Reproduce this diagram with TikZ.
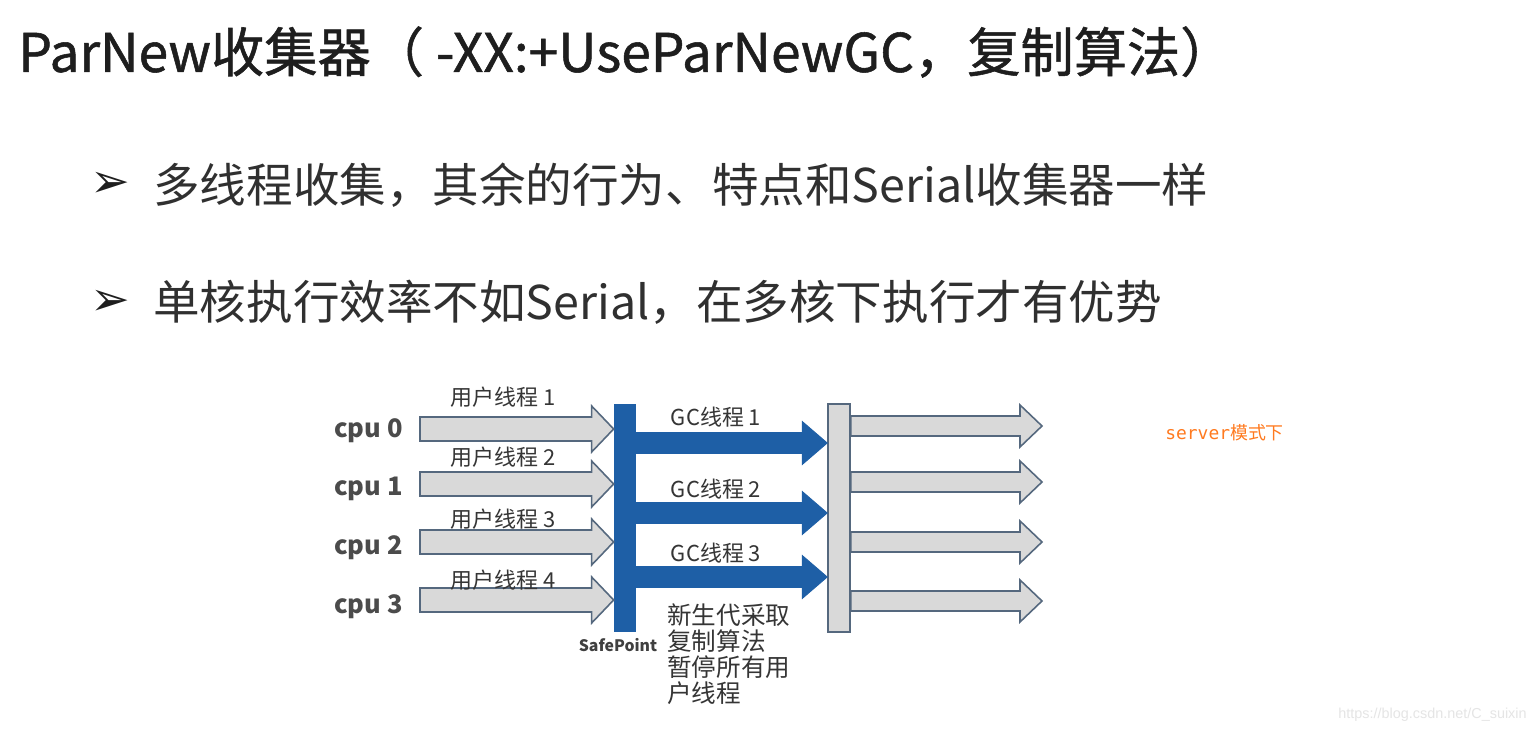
\documentclass[tikz,border=0pt]{standalone}
\usepackage{fontspec}
\setmainfont{Noto Sans CJK SC}
\newfontfamily\titlefont[FakeBold=1]{Noto Sans CJK SC}
\newfontfamily\symfont{DejaVu Sans}
\newfontfamily\srvmono{DejaVu Sans Mono}
\newfontfamily\webfont{Liberation Sans}
\usetikzlibrary{calc,positioning}
\definecolor{gcblue}{HTML}{1E5FA6}
\definecolor{boxgray}{HTML}{D9D9D9}
\definecolor{edgegray}{HTML}{55687E}
\definecolor{txtdark}{HTML}{1E1E1E}
\definecolor{srvorange}{HTML}{FF7A1F}

\tikzset{
  blockarrow/.style n args={3}{to path={let \p1=(\tikztostart),\p2=(\tikztotarget) in
    (\x1,\y1-#1) -- (\x2-#3,\y1-#1) -- (\x2-#3,\y1-#2) -- (\x2,\y1)
    -- (\x2-#3,\y1+#2) -- (\x2-#3,\y1+#1) -- (\x1,\y1+#1) -- cycle}},
  userarrow/.style={blockarrow={0.24cm}{0.46cm}{0.44cm},fill=boxgray,draw=edgegray,line width=0.9pt},
  outarrow/.style={blockarrow={0.2cm}{0.42cm}{0.44cm},fill=boxgray,draw=edgegray,line width=0.9pt},
  gcarrow/.style={blockarrow={0.21cm}{0.43cm}{0.5cm},fill=gcblue,draw=gcblue,line width=0.5pt},
  bar/.style={minimum width=0.44cm,minimum height=4.56cm,inner sep=0pt},
  cpulbl/.style={font=\fontsize{14.5}{16}\selectfont\bfseries,text=txtdark!80,inner sep=0pt},
  thrlbl/.style={font=\fontsize{12.5}{14}\selectfont,text=txtdark!90,inner sep=0pt},
  bigtxt/.style={font=\fontsize{26.5}{30}\selectfont,text=txtdark!92,inner sep=0pt},
  bullet/.style={inner sep=0pt,text=txtdark,font=\fontsize{27}{30}\selectfont\symfont}
}

\begin{document}
\begin{tikzpicture}[x=0.02cm,y=-0.02cm]
  \useasboundingbox[fill=white] (0,0) rectangle (1535,732);
  % title and bullets
  \node[anchor=west,inner sep=0pt,text=txtdark,font=\fontsize{30.3}{34}\selectfont\titlefont] (title) at (18,52)
    {ParNew收集器（ -XX:+UseParNewGC，复制算法）};
  \node[bullet] (b1) at (110,185) {➢};
  \node[bigtxt,anchor=west] (l1) at (153,185) {多线程收集，其余的行为、特点和Serial收集器一样};
  \node[bullet] (b2) at (110,303) {➢};
  \node[bigtxt,anchor=west] (l2) at (153,302) {单核执行效率不如Serial，在多核下执行才有优势};

  % the two bars
  \node[bar,fill=gcblue] (sp) at (625,518) {};
  \node[bar,fill=boxgray,draw=edgegray,line width=0.9pt] (gb) at (839,518) {};
  \node[below=0.12cm of sp,xshift=-0.14cm,inner sep=0pt,text=txtdark!85,font=\fontsize{9}{10}\selectfont\bfseries] (splbl) {SafePoint};

  % user threads
  \foreach \i/\y/\cy/\ly in {0/429/431/397,1/484/489/457,2/542/548/519,3/600/607/580}{
    \pgfmathtruncatemacro{\n}{\i+1}
    \node[cpulbl,anchor=east] (c\i) at (403,\cy) {cpu \i};
    \coordinate (a\i) at (420,\y);
    \draw[userarrow] (a\i) to (sp.west |- a\i);
    \node[thrlbl] (t\i) at (503,\ly) {用户线程 \n};
  }

  % gc threads
  \foreach \i/\y/\ly in {1/443/417,2/513/489,3/577/553}{
    \coordinate (gy\i) at (0,\y);
    \draw[gcarrow] (sp.east |- gy\i) to (gb.west |- gy\i);
    \node[thrlbl] (g\i) at (716,\ly) {GC线程 \i};
  }

  % resumed threads
  \foreach \i/\y in {0/426,1/482,2/542,3/601}{
    \coordinate (e\i) at (1042,\y);
    \draw[outarrow] (gb.east |- e\i) to (e\i);
  }

  \node[anchor=north west,align=left,inner sep=0pt,text=txtdark!90,
    font=\fontsize{14}{14.8}\selectfont] (note) at (667,603)
    {新生代采取\\复制算法\\暂停所有用\\户线程};
  \node[anchor=west,inner sep=0pt,text=srvorange,font=\fontsize{10.2}{12}\selectfont] (srv) at (1165,433)
    {{\srvmono server}模式下};
  \node[anchor=east,inner sep=0pt,text=black!10,font=\fontsize{8.2}{10}\selectfont\webfont] (wm) at (1527,715)
    {https://blog.csdn.net/C\_suixin};
\end{tikzpicture}
\end{document}
